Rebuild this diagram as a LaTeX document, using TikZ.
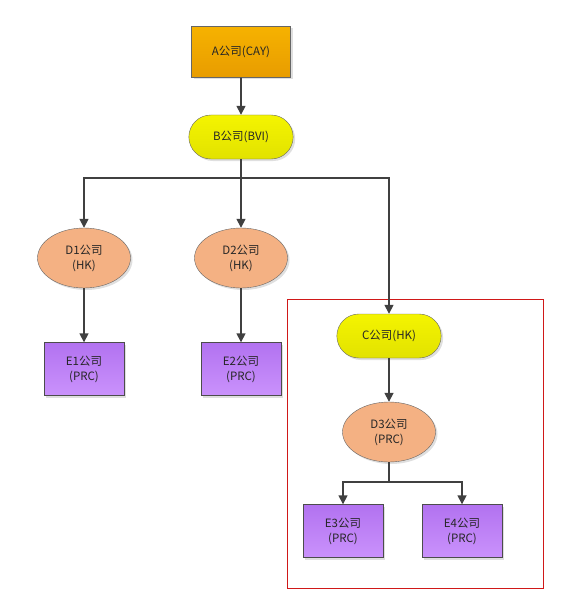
\documentclass[tikz,border=0pt]{standalone}
\usepackage{fontspec}
\setmainfont{Noto Sans CJK SC}
\usetikzlibrary{arrows.meta,shapes.geometric,shapes.misc,shadows}

\definecolor{linegray}{HTML}{404040}
\definecolor{orgtop}{HTML}{F6B200}
\definecolor{orgbot}{HTML}{E89C00}
\definecolor{yeltop}{HTML}{F4F400}
\definecolor{yelbot}{HTML}{E2E200}
\definecolor{salmon}{HTML}{F4B183}
\definecolor{purtop}{HTML}{B272F0}
\definecolor{purbot}{HTML}{CA92FC}
\definecolor{framered}{HTML}{D01818}

\tikzset{
  every node/.style={font=\fontsize{11.5}{15}\selectfont, text=black!85, align=center},
  shade/.style={drop shadow={opacity=0.25, shadow xshift=2pt, shadow yshift=-2pt}},
  topbox/.style={rectangle, draw=black!60, top color=orgtop, bottom color=orgbot,
    minimum width=99pt, minimum height=51pt, shade},
  pill/.style={rounded rectangle, draw=black!60, top color=yeltop, bottom color=yelbot,
    minimum width=111pt, minimum height=44pt, shade},
  oval/.style={ellipse, draw=black!60, fill=salmon, inner sep=0pt,
    minimum width=93pt, minimum height=60pt, shade},
  leaf/.style={rectangle, draw=black!70, top color=purtop, bottom color=purbot,
    minimum width=80pt, minimum height=53pt, shade},
  arr/.style={draw=linegray, line width=1.6pt, -{Triangle[length=9pt,width=9pt]}},
}

\begin{document}
\begin{tikzpicture}[x=1pt, y=-1pt]
  \useasboundingbox (0,0) rectangle (577,607);
  \draw [framered, line width=0.8pt] (287,299) rectangle (543,588);

  \node [topbox] (A) at (241,52) {A公司(CAY)};
  \node [pill] (B) at (241,137) {B公司(BVI)};
  \node [oval] (D1) at (84,258) {D1公司\\(HK)};
  \node [oval] (D2) at (241,258) {D2公司\\(HK)};
  \node [leaf] (E1) at (84,369) {E1公司\\(PRC)};
  \node [leaf] (E2) at (241,369) {E2公司\\(PRC)};
  \node [pill] (C) at (389,336) {C公司(HK)};
  \node [oval] (D3) at (389,432) {D3公司\\(PRC)};
  \node [leaf] (E3) at (343,531) {E3公司\\(PRC)};
  \node [leaf] (E4) at (462,531) {E4公司\\(PRC)};

  \coordinate (splitB) at (241,178);
  \coordinate (splitD) at (389,482);

  \draw [arr] (A) -- (B);
  \draw [draw=linegray, line width=1.6pt] (B.south) -- (splitB);
  \draw [arr] (splitB) -| (D1.north);
  \draw [arr] (splitB) -- (D2.north);
  \draw [arr] (splitB) -| (C.north);
  \draw [arr] (D1) -- (E1);
  \draw [arr] (D2) -- (E2);
  \draw [arr] (C) -- (D3);
  \draw [draw=linegray, line width=1.6pt] (D3.south) -- (splitD);
  \draw [arr] (splitD) -| (E3.north);
  \draw [arr] (splitD) -| (E4.north);
\end{tikzpicture}
\end{document}
